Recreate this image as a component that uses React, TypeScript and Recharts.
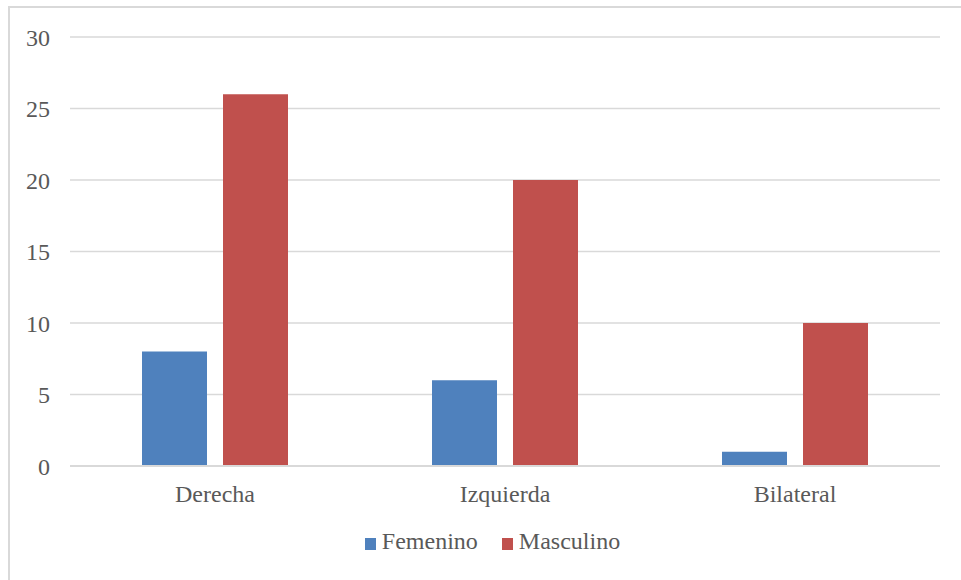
import { BarChart, Bar, XAxis, YAxis, CartesianGrid, Legend } from 'recharts'

const categories = ['Derecha', 'Izquierda', 'Bilateral']
const femenino = [8, 6, 1]
const masculino = [26, 20, 10]
const yTicks = [0, 5, 10, 15, 20, 25, 30]

const data = categories.map((name, i) => ({
  name,
  Femenino: femenino[i],
  Masculino: masculino[i],
}))

const FONT = "'Times New Roman', 'Liberation Serif', Tinos, 'DejaVu Serif', serif"
const TEXT = '#595959'
const GRID = '#d9d9d9'

function LegendContent({ payload }: { payload?: Array<{ value: string; color: string }> }) {
  return (
    <div
      style={{
        display: 'flex',
        justifyContent: 'center',
        paddingLeft: 24,
        fontFamily: FONT,
        fontSize: 24,
        color: TEXT,
      }}
    >
      {(payload ?? []).map((p, i) => (
        <div key={p.value} style={{ display: 'flex', alignItems: 'center', marginLeft: i ? 24 : 0 }}>
          <span style={{ width: 11, height: 12, background: p.color, marginRight: 6, marginTop: 4 }} />
          <span>{p.value}</span>
        </div>
      ))}
    </div>
  )
}

export default function App() {
  return (
    <div style={{ position: 'absolute', left: 0, top: 0, width: 961, height: 580, background: '#fff', fontFamily: FONT }}>
      <div
        style={{
          position: 'absolute',
          left: 8,
          top: 6,
          width: 953,
          height: 574,
          borderTop: `2px solid ${GRID}`,
          borderLeft: `2px solid ${GRID}`,
          boxSizing: 'border-box',
        }}
      />
      <div style={{ position: 'absolute', left: 0, top: 0 }}>
        <BarChart
          width={961}
          height={580}
          data={data}
          margin={{ top: 37, right: 21, left: 20, bottom: 74 }}
          barCategoryGap={72}
          barGap={16}
          style={{ fontFamily: FONT }}
        >
          <CartesianGrid vertical={false} stroke={GRID} strokeWidth={1.5} />
          <XAxis
            dataKey="name"
            height={40}
            axisLine={{ stroke: GRID, strokeWidth: 2 }}
            tickLine={false}
            tickMargin={13}
            tick={{ fill: TEXT, fontSize: 24, fontFamily: FONT }}
          />
          <YAxis
            width={50}
            domain={[0, 30]}
            ticks={yTicks}
            axisLine={false}
            tickLine={false}
            tickMargin={14}
            tick={{ fill: TEXT, fontSize: 24, fontFamily: FONT }}
          />
          <Legend
            verticalAlign="middle"
            wrapperStyle={{ top: 528, left: 0, width: 961 }}
            content={<LegendContent />}
          />
          <Bar dataKey="Femenino" fill="#4F81BD" isAnimationActive={false} />
          <Bar dataKey="Masculino" fill="#C0504D" isAnimationActive={false} />
        </BarChart>
      </div>
    </div>
  )
}
